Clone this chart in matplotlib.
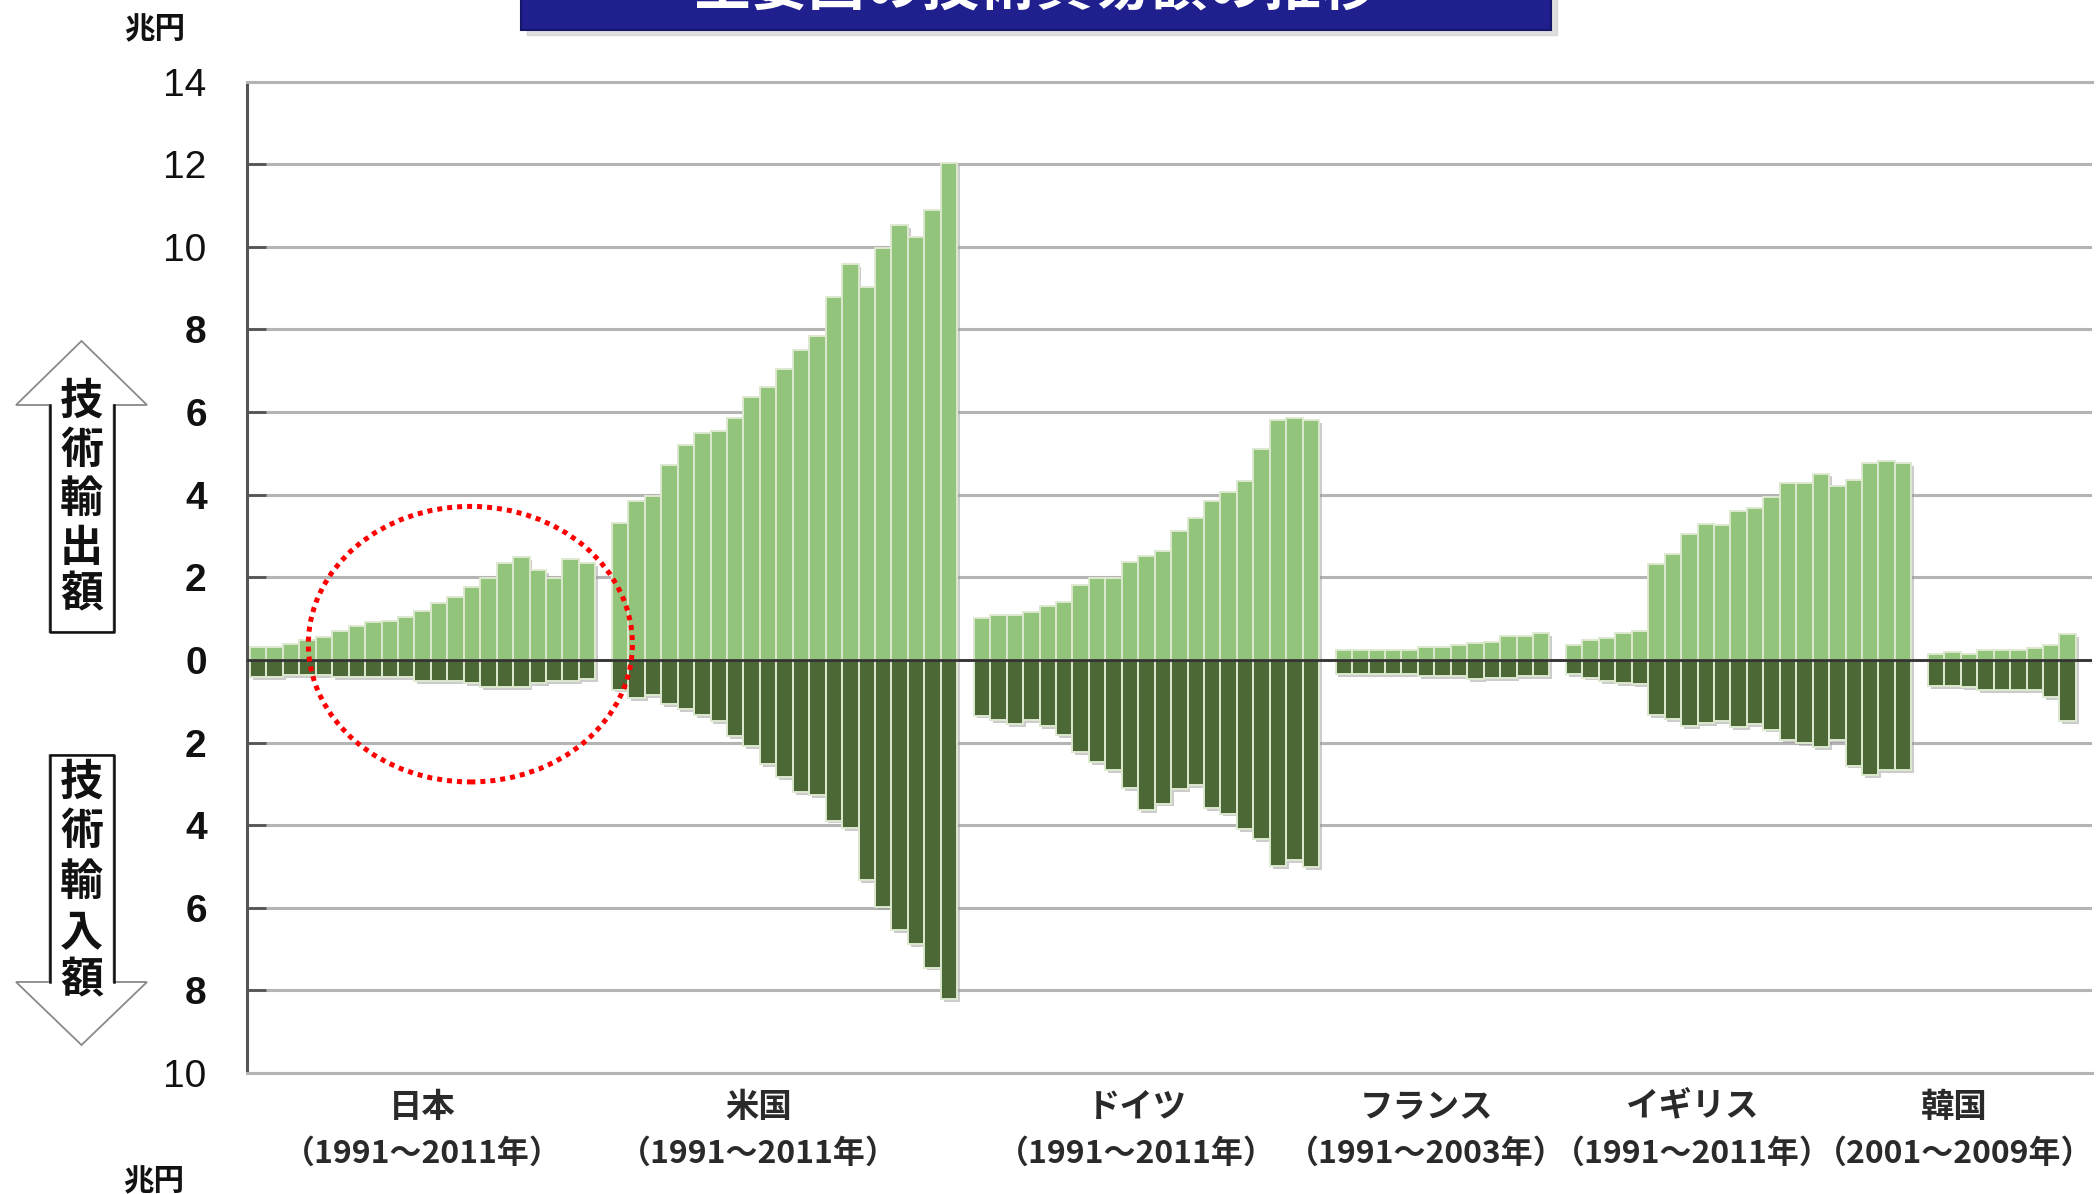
import matplotlib
matplotlib.use('Agg')
import matplotlib.pyplot as plt
import matplotlib.patheffects as pe
from matplotlib.patches import Ellipse, Polygon, Rectangle
import numpy as np

plt.rcParams['font.family'] = ['Noto Sans CJK JP', 'DejaVu Sans']

# 技術輸出額 / 技術輸入額 (兆円)
countries = ['日本', '米国', 'ドイツ', 'フランス', 'イギリス', '韓国']
periods = ['（1991～2011年）', '（1991～2011年）', '（1991～2011年）',
           '（1991～2003年）', '（1991～2011年）', '（2001～2009年）']

japan_exp = [0.32, 0.32, 0.39, 0.47, 0.56, 0.71, 0.83, 0.91, 0.93, 1.03, 1.19,
             1.37, 1.52, 1.76, 1.98, 2.35, 2.48, 2.18, 1.98, 2.43, 2.35]
japan_imp = [0.42, 0.42, 0.36, 0.36, 0.36, 0.42, 0.42, 0.42, 0.42, 0.42, 0.52,
             0.52, 0.52, 0.56, 0.66, 0.66, 0.66, 0.56, 0.52, 0.52, 0.46]
us_exp = [3.31, 3.85, 3.96, 4.72, 5.21, 5.49, 5.55, 5.85, 6.36, 6.61, 7.04,
          7.49, 7.84, 8.79, 9.58, 9.02, 9.97, 10.52, 10.23, 10.89, 12.02]
us_imp = [0.72, 0.92, 0.86, 1.08, 1.20, 1.34, 1.48, 1.85, 2.09, 2.53, 2.83,
          3.20, 3.28, 3.89, 4.08, 5.34, 5.98, 6.55, 6.88, 7.45, 8.21]
de_exp = [1.02, 1.09, 1.09, 1.15, 1.30, 1.39, 1.82, 1.97, 1.97, 2.36, 2.52,
          2.64, 3.11, 3.43, 3.84, 4.07, 4.34, 5.10, 5.80, 5.85, 5.80]
de_imp = [1.35, 1.45, 1.55, 1.45, 1.61, 1.83, 2.23, 2.47, 2.66, 3.10, 3.64,
          3.48, 3.12, 3.04, 3.59, 3.72, 4.09, 4.33, 5.00, 4.84, 5.01]
fr_exp = [0.25, 0.25, 0.25, 0.25, 0.25, 0.31, 0.31, 0.37, 0.40, 0.43, 0.57,
          0.57, 0.64]
fr_imp = [0.35, 0.35, 0.35, 0.35, 0.35, 0.40, 0.40, 0.40, 0.46, 0.44, 0.44,
          0.40, 0.40]
uk_exp = [0.36, 0.48, 0.54, 0.64, 0.70, 2.31, 2.56, 3.04, 3.30, 3.26, 3.60,
          3.67, 3.95, 4.29, 4.29, 4.51, 4.22, 4.35, 4.77, 4.81, 4.77]
uk_imp = [0.35, 0.43, 0.51, 0.57, 0.59, 1.34, 1.43, 1.60, 1.54, 1.49, 1.62,
          1.56, 1.69, 1.94, 2.02, 2.12, 1.94, 2.56, 2.78, 2.67, 2.67]
kr_exp = [0.15, 0.18, 0.15, 0.24, 0.24, 0.24, 0.28, 0.36, 0.62]
kr_imp = [0.63, 0.63, 0.65, 0.73, 0.73, 0.73, 0.73, 0.91, 1.49]

exports = [japan_exp, us_exp, de_exp, fr_exp, uk_exp, kr_exp]
imports = [japan_imp, us_imp, de_imp, fr_imp, uk_imp, kr_imp]

yticks = list(range(-10, 15, 2))

# colours
light_green = '#93c47c'
dark_green = '#4b6836'
sep_color = '#dde9cf'
grid_color = '#b4b4b4'

# label offsets from the group centre (in bar slots)
label_shift = [0, -1.6, -0.6, -1.0, -2.8, -2.9]

fig = plt.figure(figsize=(20.96, 11.94), dpi=100)
ax = fig.add_axes([0.11784, 0.10134, 0.88025, 0.83040])

shadow = [pe.SimplePatchShadow(offset=(2, -2), shadow_rgbFace='#9a9a9a', alpha=0.5),
          pe.Normal()]

slot = 0
for i, (exp, imp) in enumerate(zip(exports, imports)):
    x = np.arange(len(exp)) + slot + 0.5
    ax.bar(x, exp, width=1.0, color=light_green, edgecolor=sep_color,
           linewidth=1.4, zorder=3, path_effects=shadow)
    ax.bar(x, -np.array(imp), width=1.0, color=dark_green, edgecolor=sep_color,
           linewidth=1.4, zorder=3, path_effects=shadow)
    cx = slot + len(exp) / 2 + label_shift[i]
    ax.annotate(countries[i], xy=(cx, 0), xycoords=('data', 'axes fraction'),
                xytext=(0, -24.5), textcoords='offset points', ha='center',
                va='center', fontsize=24, fontweight='bold', color='#2a2a2a')
    ax.annotate(periods[i], xy=(cx, 0), xycoords=('data', 'axes fraction'),
                xytext=(0, -58), textcoords='offset points', ha='center',
                va='center', fontsize=23, fontweight='bold', color='#2a2a2a')
    slot += len(exp) + 1

ax.set_xlim(-0.18, 111.98)
ax.set_ylim(-10, 14)
ax.set_xticks([])
ax.set_yticks(yticks)
ax.set_yticklabels([str(abs(v)) for v in yticks], fontfamily='Liberation Sans',
                   fontsize=28)
for lab, v in zip(ax.get_yticklabels(), yticks):
    if abs(v) < 10:
        lab.set_fontweight('bold')
ax.tick_params(axis='y', direction='in', length=14, width=2, color='#555555',
               pad=29, labelcolor='#111111')
ax.grid(axis='y', color=grid_color, linewidth=2.2)
ax.set_axisbelow(True)
ax.axhline(0, color='#333333', linewidth=2, zorder=4)
ax.spines['right'].set_visible(False)
ax.spines['top'].set_color(grid_color)
ax.spines['bottom'].set_color(grid_color)
ax.spines['top'].set_linewidth(2.2)
ax.spines['bottom'].set_linewidth(2.2)
ax.spines['left'].set_color('#555555')
ax.spines['left'].set_linewidth(2.2)

# red dotted circle around Japan
circ = Ellipse((13.4, 0.38), 19.7, 6.67, fill=False, edgecolor='#ff0000',
               linewidth=3.6, linestyle=(0, (1.0, 1.0)), zorder=6, clip_on=False)
ax.add_patch(circ)

# overlay in pixel coordinates for arrows, title box and unit labels
ov = fig.add_axes([0, 0, 1, 1], zorder=-1)
ov.set_xlim(0, 2096)
ov.set_ylim(1194, 0)
ov.axis('off')

# title box (cut off at the top, as in the source image)
ov.add_patch(Rectangle((527, -10), 1030, 45, color='#c8c8c8', alpha=0.6,
                       clip_on=False))
ov.add_patch(Rectangle((521, -10), 1030, 39.5, facecolor='#1f1f8e',
                       edgecolor='#15156a', linewidth=1.5, clip_on=False))
ov.text(1036, -11, '主要国の技術貿易額の推移', color='white', fontsize=41,
        fontweight='bold', ha='center', va='center', clip_on=False)

# up arrow: 技術輸出額
up = [(81.5, 341), (147, 405), (113.6, 405), (113.6, 632), (49.5, 632),
      (49.5, 405), (16, 405)]
ov.add_patch(Polygon(up, closed=True, facecolor='white', edgecolor='#8a8a8a',
                     linewidth=1.3))
ov.plot([49.5, 49.5, 113.6, 113.6], [405, 632, 632, 405], color='#111111',
        linewidth=1.8)
for ch, yy in zip('技術輸出額', [401, 450, 499, 548, 594]):
    ov.text(81.5, yy, ch, fontsize=31, fontweight='bold', ha='center',
            va='center', color='#111111')

# down arrow: 技術輸入額
down = [(49.5, 755), (113.6, 755), (113.6, 982), (147, 982), (81.5, 1045),
        (16, 982), (49.5, 982)]
ov.add_patch(Polygon(down, closed=True, facecolor='white', edgecolor='#8a8a8a',
                     linewidth=1.3))
ov.plot([49.5, 49.5, 113.6, 113.6], [982, 755, 755, 982], color='#111111',
        linewidth=1.8)
for ch, yy in zip('技術輸入額', [782, 831, 882, 932, 980]):
    ov.text(81.5, yy, ch, fontsize=31, fontweight='bold', ha='center',
            va='center', color='#111111')

# units
ov.text(155, 29, '兆円', fontsize=22, fontweight='bold', ha='center',
        va='center', color='#111111')
ov.text(154, 1181, '兆円', fontsize=22, fontweight='bold', ha='center',
        va='center', color='#111111')

fig.savefig('out.png', dpi=100, facecolor='white')
